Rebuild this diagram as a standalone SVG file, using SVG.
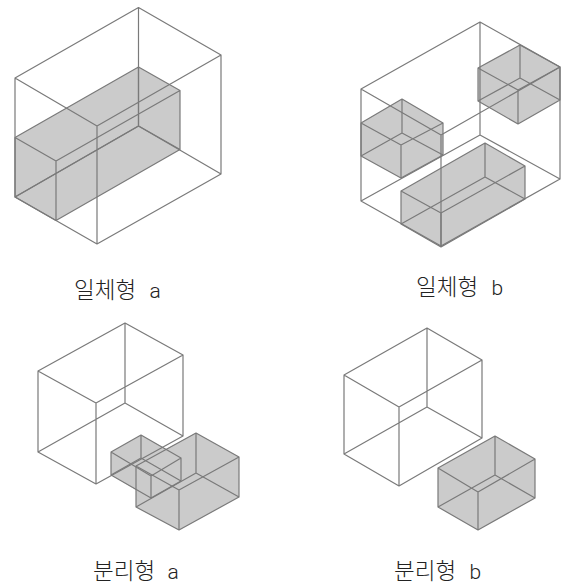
<svg xmlns="http://www.w3.org/2000/svg" width="565" height="585" viewBox="0 0 565 585">
<style>
.bg{fill:#fff}
.solid{fill:#cbcbcb;stroke:none}
.edge{fill:none;stroke:#7a7a7a;stroke-width:1.2;stroke-linejoin:round}
.label{font-family:"Noto Sans CJK KR",sans-serif;font-size:22.5px;font-weight:300;fill:#222}
.latin{font-family:Roboto,"Liberation Sans",sans-serif;font-size:21px;font-weight:300}
</style>
<rect class="bg" width="565" height="585"/>
<g id="fig-a1">
<polygon class="solid" points="138.5,67 180,90.5 180,149.5 56,220.5 15,197 15,137.5"/>
<path class="edge" d="M138.5,67L180,90.5L56,161L15,137.5ZM138.5,126L180,149.5L56,220.5L15,197ZM138.5,67V126M180,90.5V149.5M56,161V220.5M15,137.5V197"/>
<path class="edge" d="M138.5,7.5L221,55L97,126L15,78ZM138.5,126L221,174L97,244L15,197ZM138.5,7.5V126M221,55V174M97,126V244M15,78V197"/>
<text class="label" x="74" y="298">일체형<tspan class="latin" x="149.500">a</tspan></text>
</g>
<g id="fig-b1">
<polygon class="solid" points="520,45 560,67 560,100 518,124 478,101 478,68"/>
<path class="edge" d="M520,45L560,67L518,90L478,68ZM520,78L560,100L518,124L478,101ZM520,45V78M560,67V100M518,90V124M478,68V101"/>
<polygon class="solid" points="402,99 443,123 443,155 401,178 361,156 361,123"/>
<path class="edge" d="M402,99L443,123L401,145L361,123ZM402,133L443,155L401,178L361,156ZM402,99V133M443,123V155M401,145V178M361,123V156"/>
<polygon class="solid" points="485,143 525,166 525,199 441,247 401,224 401,191"/>
<path class="edge" d="M485,143L525,166L441,213L401,191ZM485,177L525,199L441,247L401,224ZM485,143V177M525,166V199M441,213V247M401,191V224"/>
<path class="edge" d="M480,22L560,67L441,135L361,89ZM480,135L560,179L441,246L361,201ZM480,22V135M560,67V179M441,135V246M361,89V201"/>
<text class="label" x="416" y="295">일체형<tspan class="latin" x="491.500">b</tspan></text>
</g>
<g id="fig-a2">
<polygon class="solid" points="196,433 239,457 239,497 179,530 136,507 136,490 111,475 111,452 141,435 166,449"/>
<path class="edge" d="M125,323L183,355L96,403L38,371ZM125,403L183,436L96,484L38,452ZM125,323V403M183,355V436M96,403V484M38,371V452"/>
<path class="edge" d="M141,435L181,458L151,476L111,452ZM141,458L181,481L151,498L111,475ZM141,435V458M181,458V481M151,476V498M111,452V475"/>
<path class="edge" d="M196,433L239,457L179,490L136,466ZM196,473L239,497L179,530L136,507ZM196,433V473M239,457V497M179,490V530M136,466V507"/>
<text class="label" x="93" y="578.500">분리형<tspan class="latin" x="167.500">a</tspan></text>
</g>
<g id="fig-b2">
<path class="edge" d="M427,328L482,360L399,407L344,375ZM427,407L482,438L399,486L344,454ZM427,328V407M482,360V438M399,407V486M344,375V454"/>
<polygon class="solid" points="495,436 535,459 535,498 478,530 438,507 438,468"/>
<path class="edge" d="M495,436L535,459L478,492L438,468ZM495,475L535,498L478,530L438,507ZM495,436V475M535,459V498M478,492V530M438,468V507"/>
<text class="label" x="394" y="578.500">분리형<tspan class="latin" x="469.500">b</tspan></text>
</g>
</svg>
